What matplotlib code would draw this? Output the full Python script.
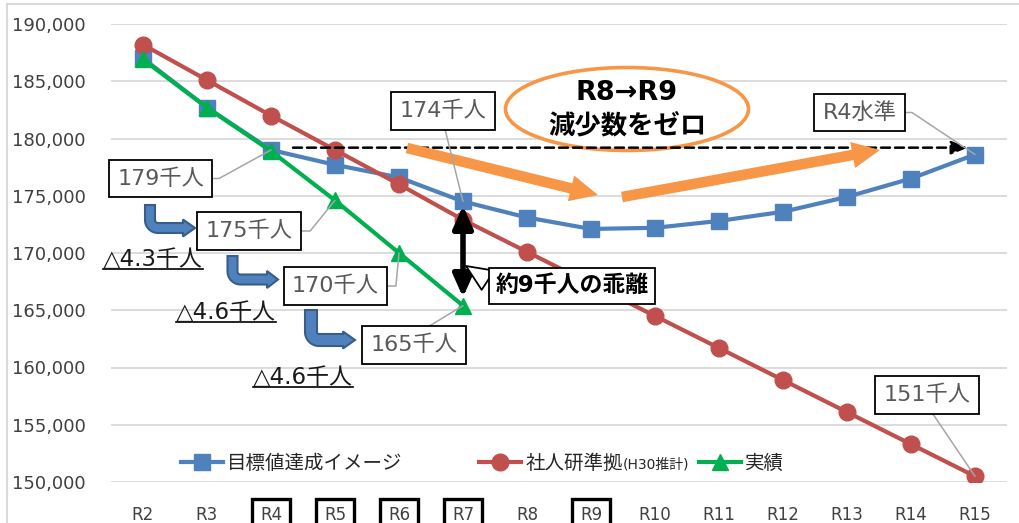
import matplotlib
matplotlib.use('Agg')
import matplotlib.pyplot as plt
import numpy as np
from matplotlib.patches import Ellipse, Rectangle, Polygon
from matplotlib.lines import Line2D
from matplotlib.ticker import FuncFormatter

plt.rcParams['font.family'] = ['DejaVu Sans', 'Noto Sans CJK JP']

# ---------------- data ----------------
categories = ['R2', 'R3', 'R4', 'R5', 'R6', 'R7', 'R8', 'R9', 'R10', 'R11', 'R12', 'R13', 'R14', 'R15']
target = [187000, 182700, 179000, 177700, 176600, 174500, 173100, 172100, 172200, 172800, 173600, 174900, 176500, 178600]
ipss = [188200, 185100, 182000, 179000, 176000, 172900, 170100, 167300, 164500, 161700, 158900, 156100, 153300, 150500]
actual = [186900, 182700, 178900, 174600, 170000, 165400]
boxed_ticks = ['R4', 'R5', 'R6', 'R7', 'R9']
series_names = ['目標値達成イメージ', '社人研準拠', '実績']
r4_level = 179200

BLUE, RED, GREEN, ORANGE = '#4F81BD', '#C0504D', '#00B050', '#F79646'
TXT = '#404040'

W, H = 1020, 523
fig = plt.figure(figsize=(W / 100, H / 100), dpi=100)
ax = fig.add_axes([111 / W, 41 / H, 896 / W, 458 / H])
x = np.arange(len(categories))
ax.set_xlim(-0.5, len(categories) - 0.5)
ax.set_ylim(150000, 190000)
ax.set_yticks(np.arange(150000, 190001, 5000))
ax.yaxis.set_major_formatter(FuncFormatter(lambda v, p: f'{int(v):,}'))
ax.set_xticks(x)
ax.set_xticklabels(categories)
ax.grid(axis='y', color='#D9D9D9', lw=1.3)
ax.set_axisbelow(True)
for s in ax.spines.values():
    s.set_visible(False)
ax.tick_params(axis='y', length=0, pad=18, labelsize=13, labelcolor=TXT)
ax.tick_params(axis='x', length=0, pad=17.5, labelsize=12, labelcolor=TXT)
for lab in ax.get_xticklabels():
    if lab.get_text() in boxed_ticks:
        lab.set_bbox(dict(boxstyle='square,pad=0.45', fc='white', ec='black', lw=2.4))

# outer chart border
fig.patches.append(Rectangle((7 / W, -0.1), 1.2, (H - 4) / H + 0.1, transform=fig.transFigure,
                             fill=False, ec='#D9D9D9', lw=1.5))

# series
ax.plot(x, target, color=BLUE, lw=3, marker='s', ms=12, zorder=2.1)
ax.plot(x, ipss, color=RED, lw=3, marker='o', ms=12, zorder=2.2)
ax.plot(x[:len(actual)], actual, color=GREEN, lw=3, marker='^', ms=11, zorder=2.3)

inv = ax.transData.inverted()
def d(xp, yp):
    return tuple(inv.transform((xp, H - yp)))

def F(xp, yp):
    return (xp / W, 1 - yp / H)

# ---------------- orange ellipse & text ----------------
c = d(627, 109)
e0 = d(627 - 121.5, 109 - 41.5)
ell = Ellipse(c, 2 * (c[0] - e0[0]), 2 * (e0[1] - c[1]), fc='white', ec=ORANGE, lw=2.6, zorder=2.6)
ax.add_patch(ell)
fig.text(*F(627, 93), 'R8→R9', fontsize=19.5, fontweight='bold', ha='center', va='center', color='black', zorder=5)
fig.text(*F(627, 126), '減少数をゼロ', fontsize=19, fontweight='bold', ha='center', va='center', color='black', zorder=5)

# dashed R4 level arrow
ax.annotate('', xy=(d(968, 0)[0], r4_level), xytext=(d(293, 0)[0], r4_level),
            arrowprops=dict(arrowstyle='-|>,head_length=1.0,head_width=0.4', linestyle=(0, (3.6, 2)),
                            lw=1.8, color='black', shrinkA=0, shrinkB=0, mutation_scale=10), zorder=2.7)

# orange arrows
for (sx, sy), (ex, ey) in [((407, 148), (598, 195)), ((622, 197), (880, 150))]:
    ax.annotate('', xy=d(ex, ey), xytext=d(sx, sy),
                arrowprops=dict(arrowstyle='simple,head_length=1.0,head_width=0.95,tail_width=0.38',
                                mutation_scale=20, fc=ORANGE, ec='none', shrinkA=0, shrinkB=0), zorder=2.8)

# black double arrow
ax.annotate('', xy=(x[5], target[5]), xytext=(x[5], actual[5]),
            arrowprops=dict(arrowstyle='<|-|>,head_length=1.35,head_width=0.6', lw=4, color='black',
                            mutation_scale=10, shrinkA=6, shrinkB=3), zorder=4)

# callout
ax.annotate('約9千人の乖離', xy=d(466, 266), xytext=(572, H - 286), textcoords='figure pixels',
            fontsize=16.5, fontweight='bold', ha='center', va='center', color='black',
            bbox=dict(boxstyle='square,pad=0.3', fc='white', ec='black', lw=1.3),
            arrowprops=dict(arrowstyle='wedge,tail_width=1.0,shrink_factor=0.5', fc='white', ec='black', lw=1.3,
                            relpos=(0.02, 0.45), shrinkA=0, shrinkB=0), zorder=4.5)

# value labels with leader lines
def vlabel(text, xy, cx, cy, conn='arc3', relpos=(0.5, 0.5)):
    ax.annotate(text, xy=xy, xytext=(cx, H - cy), textcoords='figure pixels', fontsize=16, color='#595959',
                ha='center', va='center',
                bbox=dict(boxstyle='square,pad=0.38', fc='white', ec='black', lw=1.3),
                arrowprops=dict(arrowstyle='-', color='#A6A6A6', lw=1.1, shrinkA=0, shrinkB=0,
                                connectionstyle=conn, relpos=relpos), zorder=3.5)

vlabel('179千人', (x[2], target[2]), 160.5, 178.5, 'angle,angleA=0,angleB=28.8,rad=0', (1, 0.5))
vlabel('175千人', (x[3], actual[3]), 249, 231, 'angle,angleA=0,angleB=51,rad=0', (1, 0.5))
vlabel('170千人', (x[4], actual[4]), 335.5, 286, 'angle,angleA=0,angleB=84.6,rad=0', (1, 0.5))
vlabel('165千人', (x[5], actual[5]), 414, 345, 'arc3', (0.51, 1))
vlabel('174千人', (x[5], target[5]), 443, 111, 'arc3', (0.5, 0))
vlabel('R4水準', (x[13], target[13]), 859.5, 112.5, 'angle,angleA=0,angleB=-33.7,rad=0', (1, 0.5))
vlabel('151千人', (x[13], ipss[13]), 927, 395, 'arc3', (0.5, 0))

# blue bent arrows
def bent_arrow(cx, top, hy, tip, w=5.0, R=8.0, hh=8.5, HL=12.0):
    pts = [(cx - w, top), (cx - w, hy - R)]
    for t in np.linspace(np.pi, np.pi / 2, 14):
        pts.append((cx + R + (R + w) * np.cos(t), hy - R + (R + w) * np.sin(t)))
    hb = tip - HL
    pts += [(hb, hy + w), (hb, hy + hh), (tip, hy), (hb, hy - hh), (hb, hy - w)]
    for t in np.linspace(np.pi / 2, np.pi, 14):
        pts.append((cx + R + (R - w) * np.cos(t), hy - R + (R - w) * np.sin(t)))
    pts.append((cx + w, top))
    poly = Polygon([F(px_, py_) for px_, py_ in pts], closed=True, transform=fig.transFigure,
                   fc=BLUE, ec='#385D8A', lw=1.5, zorder=3)
    fig.patches.append(poly)

bent_arrow(150, 205, 228, 195)
bent_arrow(232.5, 256, 279.5, 278, HL=11)
bent_arrow(311, 310, 340, 355, w=6, HL=12)

# underlined decrease texts
dec_texts = []
for txt, lx, by in [('△4.3千人', 103, 266), ('△4.6千人', 176, 319), ('△4.6千人', 253, 384)]:
    t = fig.text(lx / W, 1 - by / H, txt, fontsize=16.5, color='#1a1a1a', ha='left', va='baseline')
    dec_texts.append((t, by))

# legend
handles = [Line2D([], [], color=BLUE, lw=3, marker='s', ms=12),
           Line2D([], [], color=RED, lw=3, marker='o', ms=12),
           Line2D([], [], color=GREEN, lw=3, marker='^', ms=11)]
leg = fig.legend(handles, series_names, loc='center', bbox_to_anchor=(0.473, 0.1147), ncol=3, frameon=False,
                 fontsize=14, handlelength=2.2, handletextpad=0.2, columnspacing=3.9, borderpad=0)
for t in leg.get_texts():
    t.set_color('#262626')

fig.canvas.draw()
r = fig.canvas.get_renderer()
lt = leg.get_texts()[1]
ext = lt.get_window_extent(r)
bx, by = lt.get_transform().transform(lt.get_position())
fig.text(ext.x1 / W, by / H, '(H30推計)', fontsize=10, color='#262626', ha='left', va='baseline')

for t, byp in dec_texts:
    e = t.get_window_extent(r)
    yy = (H - byp - 3) / H
    fig.add_artist(Line2D([e.x0 / W, e.x1 / W], [yy, yy], transform=fig.transFigure, color='black', lw=1.2))

fig.savefig('out.png', dpi=100)
